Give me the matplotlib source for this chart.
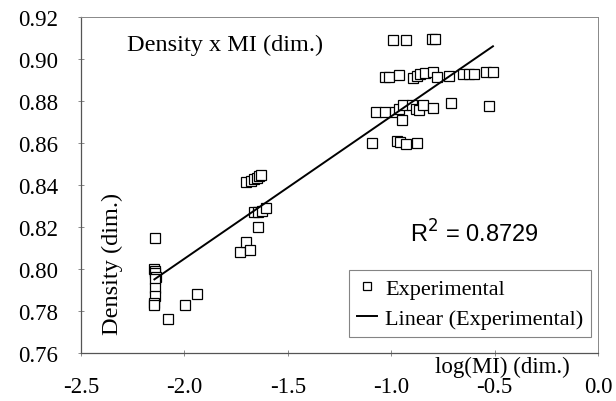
import matplotlib
matplotlib.use("Agg")
import matplotlib.pyplot as plt
import numpy as np

# Experimental data (log(MI), Density)
log_mi = [
    -2.142, -2.145, -2.143, -2.140, -2.138, -2.140, -2.142, -2.142, -2.145, -2.145,
    -2.079, -1.995, -1.939,
    -1.731, -1.702, -1.685, -1.644, -1.665, -1.645, -1.625, -1.605,
    -1.700, -1.680, -1.665, -1.650, -1.640, -1.628,
    -0.991, -0.930, -0.805, -0.790,
    -1.030, -1.010, -0.962, -0.895, -0.875, -0.861, -0.837, -0.798, -0.779, -0.720,
    -0.653, -0.625, -0.600, -0.542, -0.508,
    -1.073, -1.030, -0.982, -0.960, -0.943, -0.948, -0.899, -0.880, -0.866, -0.846,
    -0.798, -0.711, -0.527,
    -1.093, -0.972, -0.957, -0.928, -0.875,
]
density = [
    0.815, 0.800, 0.799, 0.798, 0.796, 0.795, 0.791, 0.787, 0.784, 0.783,
    0.776, 0.783, 0.788,
    0.808, 0.813, 0.809, 0.820, 0.827, 0.827, 0.8275, 0.829,
    0.8415, 0.842, 0.843, 0.8435, 0.8445, 0.845,
    0.909, 0.909, 0.9095, 0.9095,
    0.8915, 0.8915, 0.8925, 0.891, 0.892, 0.893, 0.8935, 0.894, 0.8915, 0.892,
    0.893, 0.893, 0.893, 0.894, 0.894,
    0.8748, 0.875, 0.875, 0.876, 0.878, 0.871, 0.878, 0.876, 0.8757, 0.878,
    0.8767, 0.879, 0.8776,
    0.860, 0.861, 0.8605, 0.8595, 0.860,
]
# Trendline
trend_slope = 0.0678
trend_intercept = 0.9405
r2_text = "R$^2$ = 0.8729"

x_ticks = [-2.5, -2.0, -1.5, -1.0, -0.5, 0.0]
y_ticks = [0.76, 0.78, 0.80, 0.82, 0.84, 0.86, 0.88, 0.90, 0.92]

serif = ["Liberation Serif", "DejaVu Serif"]
sans = ["Liberation Sans", "DejaVu Sans"]

fig = plt.figure(figsize=(6.16, 4.02), dpi=100)
ax = fig.add_axes([81/616, 1-354/402, (598-81)/616, (354-18)/402])

ax.plot(log_mi, density, linestyle="none", marker="s", markersize=7.5,
        markerfacecolor="white", markeredgecolor="black", markeredgewidth=0.9,
        label="Experimental", zorder=3)

xt = np.array([min(log_mi), max(log_mi)])
ax.plot(xt, trend_slope*xt + trend_intercept, color="black", linewidth=1.4,
        label="Linear (Experimental)", zorder=4)

ax.set_xlim(-2.5, 0.0)
ax.set_ylim(0.76, 0.92)
ax.set_xticks(x_ticks)
ax.set_yticks(y_ticks)
ax.set_xticklabels([f"{t:.1f}" for t in x_ticks], fontfamily=serif, fontsize=16.5)
ax.set_yticklabels([f"{t:.2f}" for t in y_ticks], fontfamily=serif, fontsize=16.5)
ax.tick_params(axis="both", direction="inout", length=5, width=0.6, color="#777777")
ax.tick_params(axis="x", pad=14)
ax.tick_params(axis="y", pad=14)

for s in ["left", "bottom"]:
    ax.spines[s].set_color("#555555")
    ax.spines[s].set_linewidth(0.9)
for s in ["top", "right"]:
    ax.spines[s].set_color("#888888")
    ax.spines[s].set_linewidth(0.7)

ax.text((127-81)/517, 1-(45-18)/336, "Density x MI (dim.)",
        transform=ax.transAxes, fontfamily=serif, fontsize=17.5, ha="left", va="center")
ax.text((112-81)/517, (354-335)/336, "Density (dim.)", transform=ax.transAxes,
        rotation=90, fontfamily=serif, fontsize=17.5, ha="center", va="bottom")
ax.text((474-81)/517, (354-234)/336, r2_text, transform=ax.transAxes,
        fontfamily=sans, fontsize=17, ha="center", va="center")
fig.text(502/616, 1-367/402, "log(MI) (dim.)", fontfamily=serif, fontsize=16.5,
         ha="center", va="center")

leg = ax.legend(loc="lower right", bbox_to_anchor=((591-81)/517, (354-338)/336),
                prop={"family": serif, "size": 16}, frameon=True, fancybox=False,
                edgecolor="#666666", borderpad=0.35, handlelength=0.9,
                handletextpad=0.35, labelspacing=0.45, borderaxespad=0.0,
                markerscale=0.75)
leg.get_frame().set_linewidth(0.8)

fig.savefig("out.png", dpi=100)
